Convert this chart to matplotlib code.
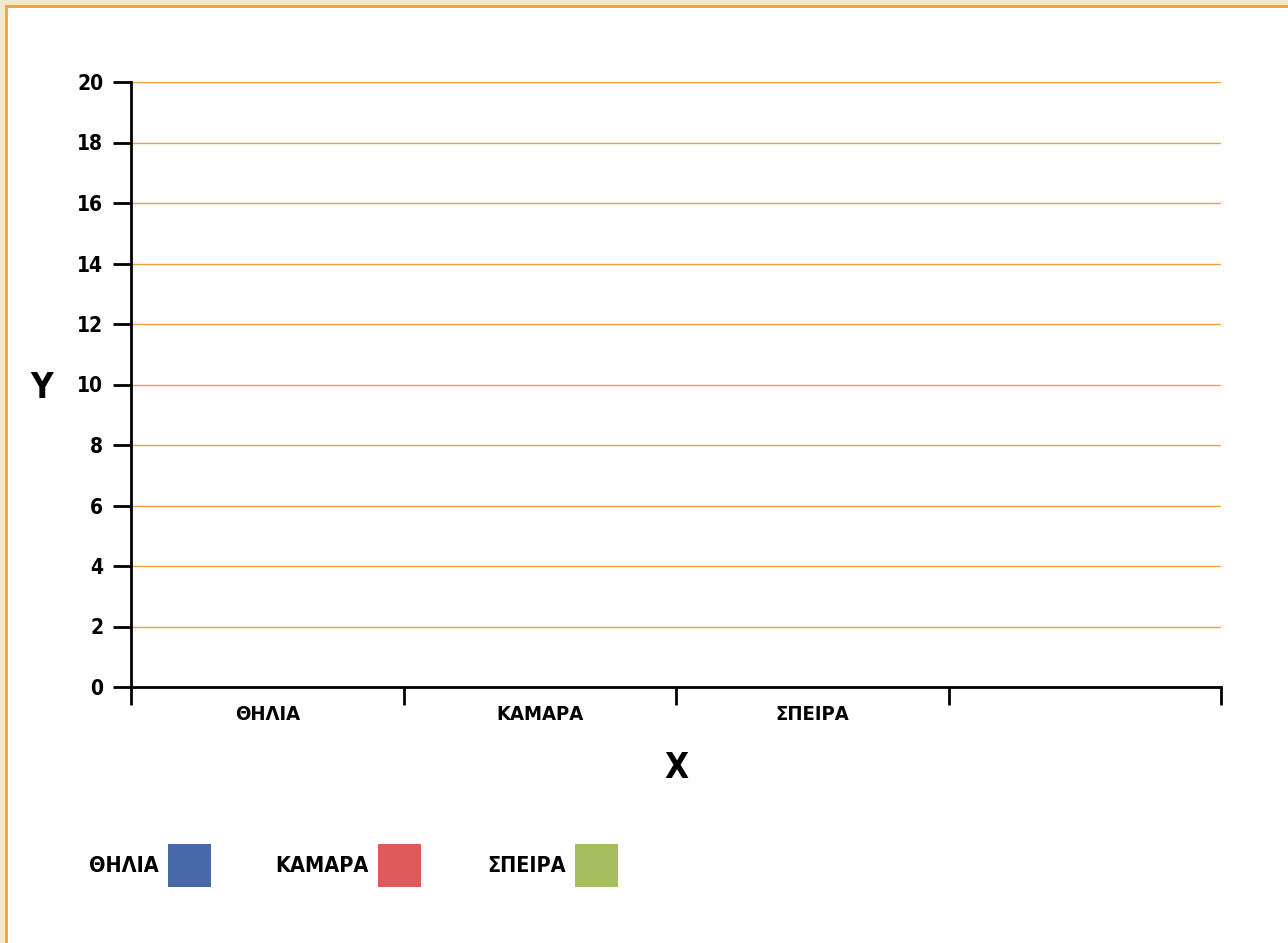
import matplotlib.pyplot as plt
from matplotlib.patches import Rectangle


CATEGORIES = ["ΘΗΛΙΑ", "ΚΑΜΑΡΑ", "ΣΠΕΙΡΑ", ""]
SERIES_NAMES = ["ΘΗΛΙΑ", "ΚΑΜΑΡΑ", "ΣΠΕΙΡΑ"]
SERIES_COLORS = ["#4769a8", "#dd5a5a", "#a5bd5c"]
# no measurements entered yet, every bar sits at zero
SERIES_VALUES = [
    [0, 0, 0, 0],
    [0, 0, 0, 0],
    [0, 0, 0, 0],
]
Y_TICKS = [0, 2, 4, 6, 8, 10, 12, 14, 16, 18, 20]

GRID_COLOR = "#e9a23b"
FIG_W, FIG_H = 1288, 943
LEGEND_SWATCH_X = [168, 378, 575]


def px(x, y):
    # pixel position from top-left -> figure fraction
    return x / FIG_W, 1 - y / FIG_H


def main():
    plt.rcParams["font.family"] = ["DejaVu Sans"]
    plt.rcParams["font.weight"] = "bold"
    plt.rcParams["font.stretch"] = "condensed"

    fig = plt.figure(figsize=(FIG_W / 100, FIG_H / 100), dpi=100, facecolor="#f3e8cb")

    # white sheet with an orange edge on top and left
    sheet = Rectangle(
        (6 / FIG_W, -0.1), 1.2, 1.1 - 6 / FIG_H,
        transform=fig.transFigure, facecolor="white",
        edgecolor=GRID_COLOR, linewidth=2, zorder=-10,
    )
    fig.patches.append(sheet)

    ax = fig.add_axes([131 / FIG_W, 1 - 687 / FIG_H, 1090 / FIG_W, 605 / FIG_H])
    ax.set_facecolor("none")

    n = len(SERIES_NAMES)
    width = 0.8 / n
    for i, (name, color, values) in enumerate(zip(SERIES_NAMES, SERIES_COLORS, SERIES_VALUES)):
        xs = [c + 0.1 + width * (i + 0.5) for c in range(len(CATEGORIES))]
        ax.bar(xs, values, width=width, color=color, linewidth=0, label=name)

    ax.set_xlim(0, len(CATEGORIES))
    ax.set_ylim(0, 20)

    ax.set_yticks(Y_TICKS)
    ax.set_yticklabels([str(t) for t in Y_TICKS], fontsize=15, fontweight="bold")

    # tick marks on category boundaries, labels in the middle
    ax.set_xticks(range(len(CATEGORIES) + 1))
    ax.set_xticklabels([])
    ax.set_xticks([c + 0.5 for c in range(len(CATEGORIES))], minor=True)
    ax.set_xticklabels(CATEGORIES, minor=True, fontsize=14.5, fontweight="bold")
    ax.tick_params(axis="x", which="minor", length=0, pad=13)
    ax.tick_params(axis="x", which="major", length=13, width=2, direction="out")
    ax.tick_params(axis="y", length=13, width=2, pad=7)

    for y in Y_TICKS[1:]:
        ax.axhline(y, color=GRID_COLOR, linewidth=1, zorder=0)

    for side in ["top", "right"]:
        ax.spines[side].set_visible(False)
    for side in ["left", "bottom"]:
        ax.spines[side].set_linewidth(2)

    ax.set_xlabel("X", fontsize=25, fontweight="bold", va="center")
    ax.xaxis.set_label_coords(0.5, (687 - 768) / 605)
    ax.set_ylabel("Y", fontsize=25, fontweight="bold", rotation=0, va="center", ha="center")
    ax.yaxis.set_label_coords((42 - 131) / 1090, (687 - 388) / 605)

    # legend: name on the left, square swatch on the right
    for name, color, sx in zip(SERIES_NAMES, SERIES_COLORS, LEGEND_SWATCH_X):
        x0, y0 = px(sx, 887)
        fig.patches.append(Rectangle(
            (x0, y0), 43 / FIG_W, 43 / FIG_H,
            transform=fig.transFigure, facecolor=color, edgecolor="none",
        ))
        tx, ty = px(sx - 9, 866)
        fig.text(tx, ty, name, ha="right", va="center", fontsize=15.5, fontweight="bold")

    fig.savefig("out.png", dpi=100, facecolor=fig.get_facecolor())
    plt.close(fig)


if __name__ == "__main__":
    main()
